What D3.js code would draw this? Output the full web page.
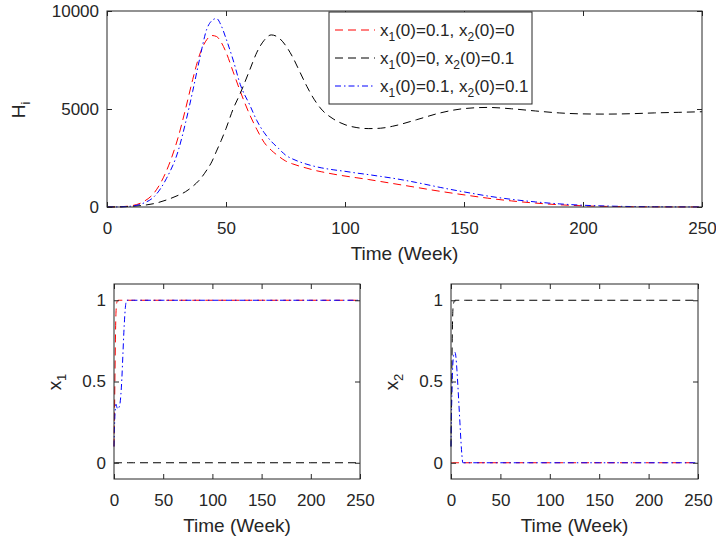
<!DOCTYPE html>
<html>
<head>
<meta charset="utf-8">
<script src="https://cdn.jsdelivr.net/npm/d3@7"></script>
<style>
  body { margin: 0; background: #fff; }
  text { font-family: "Liberation Sans", Arial, Helvetica, sans-serif; fill: #262626; }
</style>
</head>
<body>
<div id="mainDiv"></div>
<script>
// ---- data ----
var tH = [0, 5, 10, 15, 20, 25, 30, 33, 36, 39, 42, 44, 46, 48, 50, 53, 56, 60, 63, 66, 69, 72, 75, 78, 81, 84, 87, 90, 95, 100,
          105, 110, 115, 120, 130, 140, 150, 160, 170, 180, 190, 200, 210, 220, 230, 240, 250];
var hRed = [0, 10, 60, 250, 750, 1850, 3600, 5000, 6500, 7800, 8550, 8750, 8700, 8400, 7900, 6900, 5900, 4700, 3950, 3300, 2900, 2600, 2350, 2200, 2080, 1980, 1880, 1800, 1680, 1580,
            1490, 1400, 1300, 1200, 1000, 800, 620, 450, 310, 200, 115, 60, 30, 15, 8, 4, 2];
var hBlack = [0, 5, 30, 80, 180, 360, 600, 780, 1050, 1400, 1900, 2300, 2850, 3400, 4000, 5000, 5800, 7000, 7900, 8500, 8780, 8650, 8250, 7650, 6900, 6150, 5500, 5000, 4500, 4200,
              4050, 4000, 4020, 4120, 4450, 4800, 5020, 5080, 5010, 4900, 4800, 4750, 4740, 4760, 4800, 4830, 4860];
var hBlue = [0, 5, 40, 180, 550, 1460, 2900, 4300, 5900, 7600, 9100, 9500, 9620, 9250, 8600, 7500, 6250, 5200, 4400, 3800, 3350, 3000, 2650, 2450, 2300, 2180, 2080, 2000, 1900, 1820,
             1730, 1650, 1560, 1470, 1250, 1000, 770, 560, 390, 260, 160, 90, 50, 25, 12, 6, 3];

var tX = [0, 0.5, 1, 1.5, 2, 3, 4, 5, 6, 7, 8, 9, 10, 11, 12, 13, 15, 20, 50, 100, 150, 200, 250];
var x1Red   = [0.1, 0.3, 0.55, 0.78, 0.92, 0.99, 1, 1, 1, 1, 1, 1, 1, 1, 1, 1, 1, 1, 1, 1, 1, 1, 1];
var x1Black = [0, 0, 0, 0, 0, 0, 0, 0, 0, 0, 0, 0, 0, 0, 0, 0, 0, 0, 0, 0, 0, 0, 0];
var x1Blue  = [0.1, 0.22, 0.3, 0.34, 0.36, 0.34, 0.33, 0.34, 0.36, 0.42, 0.52, 0.66, 0.8, 0.91, 0.98, 1, 1, 1, 1, 1, 1, 1, 1];
var x2Red   = [0, 0, 0, 0, 0, 0, 0, 0, 0, 0, 0, 0, 0, 0, 0, 0, 0, 0, 0, 0, 0, 0, 0];
var x2Black = [0.1, 0.35, 0.65, 0.85, 0.95, 0.99, 1, 1, 1, 1, 1, 1, 1, 1, 1, 1, 1, 1, 1, 1, 1, 1, 1];
var x2Blue  = [0.1, 0.3, 0.45, 0.56, 0.62, 0.67, 0.68, 0.65, 0.57, 0.47, 0.36, 0.25, 0.14, 0.05, 0, 0, 0, 0, 0, 0, 0, 0, 0];

var xTicks = [0, 50, 100, 150, 200, 250];
var hTicks = [0, 5000, 10000];
var xsTicks = [0, 0.5, 1];

var legendLabels = [
  ["x", "1", "(0)=0.1, x", "2", "(0)=0"],
  ["x", "1", "(0)=0, x", "2", "(0)=0.1"],
  ["x", "1", "(0)=0.1, x", "2", "(0)=0.1"]
];
var colors = ["#ff0000", "#000000", "#0000ff"];
var dashes = ["8,5", "8,5", "6,3,1.5,3"];

// ---- drawing ----
var mySvg = d3.select("#mainDiv").append("svg")
              .attr("width", 716)
              .attr("height", 542);

var axisColor = "#262626";

function panel(box, yDomain, yTickVals, yFmt, series, tArr) {
  var x = d3.scaleLinear().domain([0, 250]).range([box.left, box.right]);
  var y = d3.scaleLinear().domain(yDomain).range([box.bottom, box.top]);
  var g = mySvg.append("g");

  var line = d3.line()
               .x(function(d) { return x(d[0]); })
               .y(function(d) { return y(d[1]); })
               .curve(d3.curveMonotoneX);

  series.forEach(function(s, i) {
    g.append("path")
     .datum(tArr.map(function(t, k) { return [t, s[k]]; }))
     .attr("fill", "none")
     .attr("stroke", colors[i])
     .attr("stroke-width", 1)
     .attr("stroke-dasharray", dashes[i])
     .attr("d", line);
  });

  var gb = g.append("g").attr("transform", "translate(0," + box.bottom + ")")
            .call(d3.axisBottom(x).tickValues(xTicks).tickSizeInner(-5).tickSizeOuter(0).tickPadding(15));
  var gt = g.append("g").attr("transform", "translate(0," + box.top + ")")
            .call(d3.axisTop(x).tickValues(xTicks).tickSizeInner(-5).tickSizeOuter(0).tickFormat(""));
  var gl = g.append("g").attr("transform", "translate(" + box.left + ",0)")
            .call(d3.axisLeft(y).tickValues(yTickVals).tickSizeInner(-5).tickSizeOuter(0).tickPadding(8).tickFormat(yFmt));
  var gr = g.append("g").attr("transform", "translate(" + box.right + ",0)")
            .call(d3.axisRight(y).tickValues(yTickVals).tickSizeInner(-5).tickSizeOuter(0).tickFormat(""));

  [gb, gt, gl, gr].forEach(function(a) {
    a.select(".domain").remove();
    a.selectAll("line").attr("stroke", axisColor);
    a.selectAll("text").style("font-size", "17px").attr("fill", axisColor)
     .style("font-family", '"Liberation Sans", Arial, sans-serif');
  });

  g.append("rect")
   .attr("x", box.left).attr("y", box.top)
   .attr("width", box.right - box.left).attr("height", box.bottom - box.top)
   .attr("fill", "none").attr("stroke", axisColor).attr("stroke-width", 1);

  g.append("text")
   .attr("x", (box.left + box.right) / 2)
   .attr("y", box.bottom + 53)
   .attr("text-anchor", "middle")
   .style("font-size", "19px")
   .text("Time (Week)");

  return g;
}

function yLabel(xPos, yPos, main, sub) {
  var t = mySvg.append("text")
               .attr("transform", "translate(" + xPos + "," + yPos + ") rotate(-90)")
               .attr("text-anchor", "middle")
               .style("font-size", "19px");
  t.append("tspan").text(main);
  t.append("tspan").attr("dy", 5).style("font-size", "13px").text(sub);
}

var topBox = { left: 107, right: 702, top: 11, bottom: 207 };
var leftBox = { left: 114, right: 360, top: 284, bottom: 479 };
var rightBox = { left: 451, right: 698, top: 284, bottom: 479 };

panel(topBox, [0, 10000], hTicks, d3.format("d"), [hRed, hBlack, hBlue], tH);
panel(leftBox, [-0.1, 1.1], xsTicks, d3.format(""), [x1Red, x1Black, x1Blue], tX);
panel(rightBox, [-0.1, 1.1], xsTicks, d3.format(""), [x2Red, x2Black, x2Blue], tX);

yLabel(25, 110, "H", "i");
yLabel(61, 382, "x", "1");
yLabel(398, 382, "x", "2");

// legend
var leg = mySvg.append("g");
leg.append("rect")
   .attr("x", 329).attr("y", 12).attr("width", 203).attr("height", 92)
   .attr("fill", "#fff").attr("stroke", axisColor).attr("stroke-width", 1);

legendLabels.forEach(function(parts, i) {
  var yy = 30 + i * 28;
  leg.append("line")
     .attr("x1", 335).attr("x2", 375).attr("y1", yy).attr("y2", yy)
     .attr("stroke", colors[i]).attr("stroke-width", 1)
     .attr("stroke-dasharray", dashes[i]);
  var t = leg.append("text").attr("x", 380).attr("y", yy + 6).style("font-size", "17px");
  t.append("tspan").text(parts[0]);
  t.append("tspan").attr("dy", 5).style("font-size", "12px").text(parts[1]);
  t.append("tspan").attr("dy", -5).text(parts[2]);
  t.append("tspan").attr("dy", 5).style("font-size", "12px").text(parts[3]);
  t.append("tspan").attr("dy", -5).text(parts[4]);
});
</script>
</body>
</html>
